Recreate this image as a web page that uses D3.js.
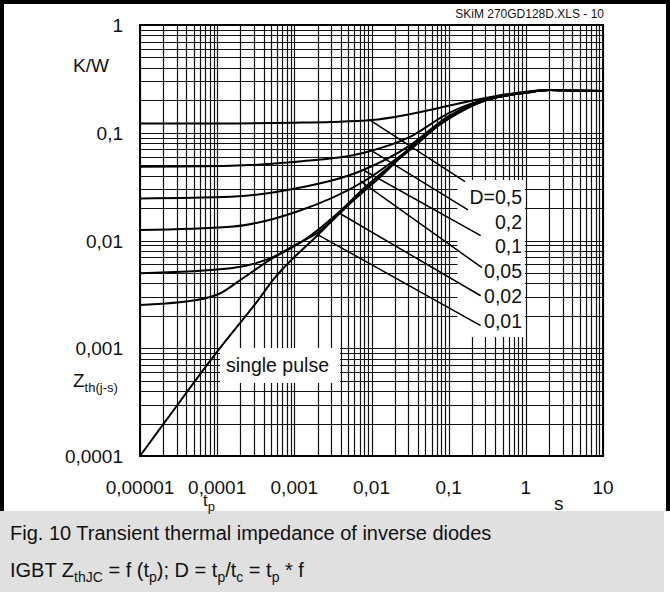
<!DOCTYPE html>
<html>
<head>
<meta charset="utf-8">
<script src="https://cdn.jsdelivr.net/npm/d3@7"></script>
<style>
  body { margin: 0; background: #fff; }
  text { font-family: "Liberation Sans", Arial, sans-serif; fill: #111; }
</style>
</head>
<body>
<div id="chart"></div>
<script>
var width = 670, height = 592,
    margin = {left: 140, top: 25, right: 67, bottom: 136};

// axis ticks
var xTicks = [1e-5, 1e-4, 1e-3, 1e-2, 1e-1, 1, 10],
    xTickLabels = ["0,00001", "0,0001", "0,001", "0,01", "0,1", "1", "10"],
    yTicks = [1e-4, 1e-3, 1e-2, 1e-1, 1],
    yTickLabels = ["0,0001", "0,001", "0,01", "0,1", "1"];

// curves, [t (s), Zth (K/W)]
var singlePulse = [[1e-5, 1e-4], [2.2e-5, 2.16e-4], [1e-4, 9.3e-4], [3.4e-4, 2.8e-3],
                   [5.3e-4, 4.3e-3], [2e-3, 0.0112], [0.006, 0.024], [0.013, 0.039],
                   [0.03, 0.07], [0.1, 0.135], [0.3, 0.2], [1, 0.235], [2, 0.249],
                   [5, 0.246], [10, 0.244]];
var dutyCurves = [
  [[1e-5, 0.122], [1e-4, 0.122], [1e-3, 0.124], [0.003, 0.126], [0.01, 0.131],
   [0.03, 0.148], [0.1, 0.178], [0.3, 0.21], [1, 0.240], [2, 0.249], [5, 0.246], [10, 0.244]],
  [[1e-5, 0.0484], [1.5e-4, 0.0494], [1.07e-3, 0.0538], [0.0078, 0.0649], [0.032, 0.092],
   [0.1, 0.152], [0.3, 0.205], [1, 0.238], [2, 0.249], [5, 0.246], [10, 0.244]],
  [[1e-5, 0.0246], [1.5e-4, 0.0255], [1.07e-3, 0.0305], [0.0078, 0.0451], [0.032, 0.0769],
   [0.1, 0.143], [0.3, 0.203], [1, 0.237], [2, 0.249], [5, 0.246], [10, 0.244]],
  [[1e-5, 0.0125], [1.5e-4, 0.0134], [1.07e-3, 0.0185], [0.0078, 0.0351], [0.032, 0.072],
   [0.1, 0.139], [0.3, 0.201], [1, 0.236], [2, 0.249], [5, 0.246], [10, 0.244]],
  [[1e-5, 0.00496], [1.5e-4, 0.00552], [1.07e-3, 0.00908], [0.004, 0.019], [0.0078, 0.03],
   [0.032, 0.07], [0.1, 0.137], [0.3, 0.2], [1, 0.235], [2, 0.249], [5, 0.246], [10, 0.244]],
  [[1e-5, 0.00252], [5.4e-5, 0.0028], [1.1e-4, 0.00324], [2e-4, 0.0043], [4.5e-4, 0.0064],
   [1e-3, 0.009], [2e-3, 0.0118], [0.006, 0.0245], [0.013, 0.039], [0.03, 0.07],
   [0.1, 0.135], [0.3, 0.2], [1, 0.235], [2, 0.249], [5, 0.246], [10, 0.244]]
];
var dutyLabels = ["D=0,5", "0,2", "0,1", "0,05", "0,02", "0,01"];
// leader lines from curve to label
var leaderFrom = [[0.00955, 0.131], [0.0105, 0.0667], [0.0078, 0.0451], [0.0072, 0.0355],
                  [0.0039, 0.0178], [0.00203, 0.0113]],
    leaderTo = [[0.163, 0.0351], [0.178, 0.0192], [0.26, 0.0111], [0.27, 0.0056],
                [0.26, 0.00307], [0.26, 0.00162]];

var svg = d3.select("#chart").append("svg")
    .attr("width", width)
    .attr("height", height);

var x = d3.scaleLog().domain([1e-5, 10]).range([margin.left, width - margin.right]),
    y = d3.scaleLog().domain([1e-4, 1]).range([height - margin.bottom, margin.top]);

// caption panel and outer frame (open at the bottom)
svg.append("rect")
    .attr("x", 0).attr("y", 511)
    .attr("width", 664).attr("height", height - 511)
    .attr("fill", "#e0e0e0");
svg.append("path")
    .attr("d", "M2,511V2H668V511")
    .attr("fill", "none")
    .attr("stroke", "#000")
    .attr("stroke-width", 4);

// grid
var xGrid = [], yGrid = [];
for (var e = -5; e <= 0; e++) for (var k = 1; k <= 9; k++) xGrid.push(k * Math.pow(10, e));
xGrid.push(10);
for (var e = -4; e <= -1; e++) for (var k = 1; k <= 9; k++) yGrid.push(k * Math.pow(10, e));
yGrid.push(1);

var grid = svg.append("g").attr("stroke", "#111").attr("stroke-width", 1.2);
grid.selectAll("line.v")
    .data(xGrid)
  .enter().append("line")
    .attr("class", "v")
    .attr("x1", function(d) { return Math.round(x(d)) + 0.5; })
    .attr("x2", function(d) { return Math.round(x(d)) + 0.5; })
    .attr("y1", y(1))
    .attr("y2", y(1e-4));
grid.selectAll("line.h")
    .data(yGrid)
  .enter().append("line")
    .attr("class", "h")
    .attr("x1", x(1e-5))
    .attr("x2", x(10))
    .attr("y1", function(d) { return Math.round(y(d)) + 0.5; })
    .attr("y2", function(d) { return Math.round(y(d)) + 0.5; });

svg.append("rect")
    .attr("x", x(1e-5)).attr("y", y(1))
    .attr("width", x(10) - x(1e-5)).attr("height", y(1e-4) - y(1))
    .attr("fill", "none")
    .attr("stroke", "#000")
    .attr("stroke-width", 2);

// white boxes behind annotations
svg.append("rect")
    .attr("x", x(0.13)).attr("y", 180)
    .attr("width", x(0.97) - x(0.13)).attr("height", 157)
    .attr("fill", "#fff");
svg.append("rect")
    .attr("x", 220).attr("y", 348)
    .attr("width", 120).attr("height", 35)
    .attr("fill", "#fff");

// curves
var line = d3.line()
    .x(function(d) { return x(d[0]); })
    .y(function(d) { return y(d[1]); })
    .curve(d3.curveMonotoneX);

svg.append("g").selectAll("path.duty")
    .data(dutyCurves)
  .enter().append("path")
    .attr("class", "duty")
    .attr("d", line)
    .attr("fill", "none")
    .attr("stroke", "#000")
    .attr("stroke-width", 2);
svg.append("path")
    .attr("d", line(singlePulse))
    .attr("fill", "none")
    .attr("stroke", "#000")
    .attr("stroke-width", 2);

svg.append("g").selectAll("line.leader")
    .data(leaderFrom)
  .enter().append("line")
    .attr("class", "leader")
    .attr("x1", function(d) { return x(d[0]); })
    .attr("y1", function(d) { return y(d[1]); })
    .attr("x2", function(d, i) { return x(leaderTo[i][0]); })
    .attr("y2", function(d, i) { return y(leaderTo[i][1]); })
    .attr("stroke", "#000")
    .attr("stroke-width", 1.5);

svg.append("g").selectAll("text.duty")
    .data(dutyLabels)
  .enter().append("text")
    .attr("class", "duty")
    .attr("x", 522)
    .attr("y", function(d, i) { return 204 + i * 24.7; })
    .attr("text-anchor", "end")
    .attr("font-size", 19.5)
    .text(function(d) { return d; });

svg.append("text")
    .attr("x", 226).attr("y", 372)
    .attr("font-size", 19.5)
    .text("single pulse");

// tick labels
svg.append("g").selectAll("text.xt")
    .data(xTicks)
  .enter().append("text")
    .attr("class", "xt")
    .attr("x", function(d) { return x(d); })
    .attr("y", 494)
    .attr("text-anchor", "middle")
    .attr("font-size", 19)
    .text(function(d, i) { return xTickLabels[i]; });
svg.append("g").selectAll("text.yt")
    .data(yTicks)
  .enter().append("text")
    .attr("class", "yt")
    .attr("x", 123)
    .attr("y", function(d) { return y(d) + 7; })
    .attr("text-anchor", "end")
    .attr("font-size", 19)
    .text(function(d, i) { return yTickLabels[i]; });

// axis titles
svg.append("text").attr("x", 73).attr("y", 72).attr("font-size", 19).text("K/W");
var zt = svg.append("text").attr("x", 73).attr("y", 387).attr("font-size", 19);
zt.append("tspan").text("Z");
zt.append("tspan").attr("dy", 5).attr("font-size", 13).text("th(j-s)");
var tp = svg.append("text").attr("x", 203).attr("y", 506).attr("font-size", 17);
tp.append("tspan").text("t");
tp.append("tspan").attr("dy", 5).attr("font-size", 13).text("p");
svg.append("text").attr("x", 554).attr("y", 510).attr("font-size", 19).text("s");

svg.append("text")
    .attr("x", 604).attr("y", 18)
    .attr("text-anchor", "end")
    .attr("font-size", 12)
    .text("SKiM 270GD128D.XLS - 10");

// caption
svg.append("text").attr("x", 10).attr("y", 540).attr("font-size", 20)
    .text("Fig. 10 Transient thermal impedance of inverse diodes");
var cap = svg.append("text").attr("x", 10).attr("y", 577).attr("font-size", 20);
cap.append("tspan").text("IGBT Z");
cap.append("tspan").attr("dy", 5).attr("font-size", 14).text("thJC");
cap.append("tspan").attr("dy", -5).text(" = f (t");
cap.append("tspan").attr("dy", 5).attr("font-size", 14).text("p");
cap.append("tspan").attr("dy", -5).text("); D = t");
cap.append("tspan").attr("dy", 5).attr("font-size", 14).text("p");
cap.append("tspan").attr("dy", -5).text("/t");
cap.append("tspan").attr("dy", 5).attr("font-size", 14).text("c");
cap.append("tspan").attr("dy", -5).text(" = t");
cap.append("tspan").attr("dy", 5).attr("font-size", 14).text("p");
cap.append("tspan").attr("dy", -5).text(" * f");
</script>
</body>
</html>
